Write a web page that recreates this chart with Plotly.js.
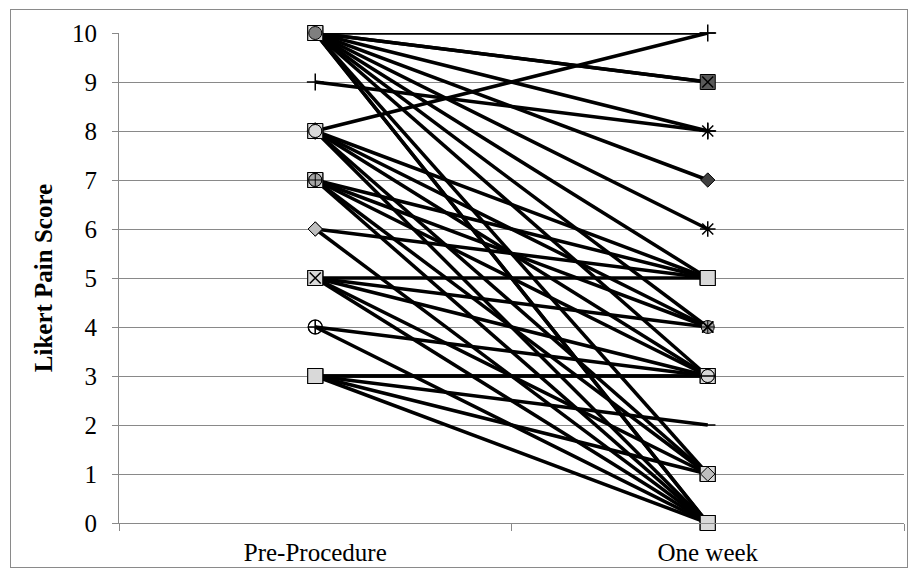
<!DOCTYPE html>
<html>
<head>
<meta charset="utf-8">
<script src="https://cdn.plot.ly/plotly-3.0.1.min.js"></script>
<style>
  html, body { margin: 0; padding: 0; background: #fff; }
  #wrap { position: relative; width: 912px; height: 576px; }
  #chart { width: 912px; height: 576px; }
  #frame { position: absolute; left: 10px; top: 9px; width: 898px; height: 559px;
           box-sizing: border-box; border: 1px solid #8a8a8a; pointer-events: none; }
</style>
</head>
<body>
<div id="wrap"><div id="chart"></div><div id="frame"></div></div>
<script>
// Categories on the x axis
const categories = ['Pre-Procedure', 'One week'];
// Likert pain score per patient, before the procedure
const preScores  = [3, 3, 3, 3, 4, 4, 6, 6, 5, 5, 5, 5, 5, 7, 7, 7, 7, 7, 8, 8, 8, 8, 8, 8, 9, 10, 10, 10, 10, 10, 10, 10, 10, 10, 10, 10, 10, 3];
// Likert pain score per patient, one week after
const postScores = [2, 3, 3, 1, 3, 0, 5, 0, 5, 3, 1, 0, 4, 5, 1, 0, 4, 3, 10, 5, 4, 1, 3, 0, 8, 10, 9, 9, 8, 7, 6, 5, 4, 3, 1, 0, 0, 0];
// Marker style key per patient series (Excel-like grey-scale markers)
const markerKeys = ['DASH','SQ','SQ','SQ','CXO','CXO','DIL','DIL','SQ','SQ','SQ','SQ','X','SQ','SQ','SQ','CIG','CIG',
                    'PLUS','SQ','X','SQ','CIL','CIL','PLUS','DASH','DSQ','X','AST','DID','AST','SQ','X','DASH','DIL','SQ','CID','SQ'];

const markerStyles = {
  SQ:   {symbol: 'square', size: 15, color: '#d9d9d9', line: {color: '#000', width: 1}},
  DSQ:  {symbol: 'square', size: 15, color: '#595959', line: {color: '#000', width: 1}},
  CID:  {symbol: 'circle', size: 13, color: '#7f7f7f', line: {color: '#000', width: 1}},
  CIL:  {symbol: 'circle', size: 13, color: '#d9d9d9', line: {color: '#000', width: 1}},
  CIG:  {symbol: 'circle-cross', size: 13, color: '#a6a6a6', line: {color: '#000', width: 1}},
  CXO:  {symbol: 'circle-cross-open', size: 14, color: '#000', line: {color: '#000', width: 1.2}},
  DIL:  {symbol: 'diamond', size: 11, color: '#bfbfbf', line: {color: '#000', width: 1}},
  DID:  {symbol: 'diamond', size: 11, color: '#404040', line: {color: '#000', width: 1}},
  X:    {symbol: 'x-thin-open', size: 11, color: '#000', line: {color: '#000', width: 1.5}},
  AST:  {symbol: 'asterisk-open', size: 13, color: '#000', line: {color: '#000', width: 1.5}},
  PLUS: {symbol: 'cross-thin-open', size: 12, color: '#000', line: {color: '#000', width: 1.5}},
  DASH: {symbol: 'line-ew-open', size: 11, color: '#000', line: {color: '#000', width: 1.5}}
};

const lineTraces = [];
const markerTraces = [];
for (let i = 0; i < preScores.length; i++) {
  lineTraces.push({
    type: 'scatter', mode: 'lines', x: categories, y: [preScores[i], postScores[i]],
    line: {color: '#000', width: 3.5}, cliponaxis: false, hoverinfo: 'skip', showlegend: false
  });
  markerTraces.push({
    type: 'scatter', mode: 'markers', x: categories, y: [preScores[i], postScores[i]],
    marker: markerStyles[markerKeys[i]], cliponaxis: false, hoverinfo: 'skip', showlegend: false
  });
}

const axisGrey = '#898989';
const serif = '"Liberation Serif", "Times New Roman", serif';
const layout = {
  width: 912, height: 576,
  margin: {l: 119, r: 8, t: 33, b: 53, pad: 0},
  paper_bgcolor: '#fff', plot_bgcolor: '#fff',
  font: {family: serif, size: 25, color: '#000'},
  showlegend: false,
  xaxis: {
    type: 'category', range: [-0.5, 1.5], tickson: 'boundaries',
    ticks: 'outside', ticklen: 7, tickcolor: axisGrey, tickwidth: 1,
    showline: true, linecolor: axisGrey, linewidth: 1,
    showgrid: false, zeroline: false, fixedrange: true,
    ticklabelstandoff: 7,
    tickfont: {family: serif, size: 25, color: '#000'}
  },
  yaxis: {
    range: [0, 10], dtick: 1, tick0: 0,
    ticks: 'outside', ticklen: 6, tickcolor: axisGrey, tickwidth: 1,
    showline: true, linecolor: axisGrey, linewidth: 1,
    showgrid: true, gridcolor: axisGrey, gridwidth: 1, zeroline: false, fixedrange: true,
    ticklabelstandoff: 10,
    tickfont: {family: serif, size: 25, color: '#000'},
    title: {text: '<b>Likert Pain Score</b>', standoff: 12,
            font: {family: serif, size: 25, color: '#000'}}
  }
};

Plotly.newPlot('chart', lineTraces.concat(markerTraces), layout, {staticPlot: true, displayModeBar: false});
</script>
</body>
</html>
